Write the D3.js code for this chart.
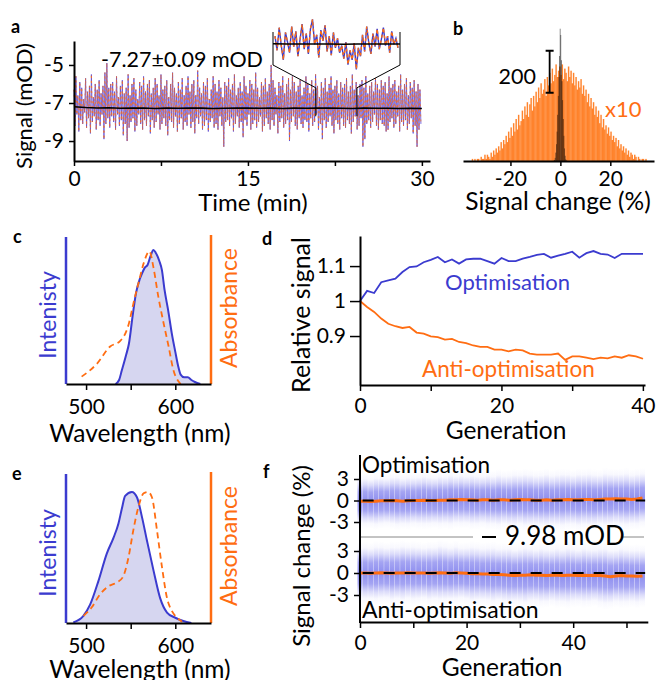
<!DOCTYPE html>
<html><head><meta charset="utf-8">
<script src="https://cdn.jsdelivr.net/npm/d3@7"></script>
<style>
body{margin:0;background:#fff}
svg text{font-family:Lato,"Open Sans",sans-serif}
</style></head><body>
<svg id="fig" width="658" height="680"></svg>
<script>
// ---- data ----
// a: signal envelope (mOD), max and min per 10 s bin, 0-30 min
var traceHi = [
-6.3,-5.6,-6.6,-5.9,-6.2,-6.8,-5.7,-6.4,-6.1,-5.5,-6.7,-6.0,-6.3,-5.8,-6.5,-6.1,-5.4,-4.9,-6.2,-6.0,
-5.9,-6.4,-5.6,-6.7,-6.1,-5.8,-6.5,-6.2,-5.5,-6.6,-6.0,-5.7,-6.3,-6.8,-5.9,-6.1,-5.6,-6.4,-6.0,-5.8,
-6.5,-6.2,-5.7,-6.0,-6.6,-5.5,-6.3,-6.1,-5.8,-6.7,-6.0,-5.4,-6.2,-6.5,-5.9,-6.3,-5.7,-6.6,-6.1,-5.6,
-6.4,-6.0,-5.8,-6.6,-5.3,-6.2,-6.5,-5.9,-6.1,-5.7,-6.8,-6.3,-5.6,-6.0,-6.4,-5.8,-6.2,-6.7,-5.9,-6.1,
-5.7,-6.3,-6.0,-5.5,-6.6,-6.2,-5.9,-6.4,-5.6,-6.1,-6.5,-5.8,-6.0,-6.3,-5.4,-6.2,-6.7,-5.9,-6.1,-5.7,
-6.4,-6.0,-5.0,-5.8,-6.2,-6.6,-5.9,-6.1,-5.6,-6.5,-6.0,-5.7,-6.3,-5.6,-5.9,-6.4,-6.1,-5.8,-6.6,-6.2,
-5.6,-6.0,-6.5,-5.8,-6.3,-5.5,-6.1,-6.7,-5.9,-6.2,-5.7,-6.4,-6.0,-5.6,-6.3,-6.1,-5.8,-6.5,-5.9,-6.2,
-6.0,-5.7,-6.4,-6.1,-5.5,-6.3,-5.9,-6.6,-6.0,-5.8,-6.2,-5.6,-6.5,-6.1,-5.9,-6.4,-5.7,-6.0,-6.3,-5.8,
-6.1,-5.9,-6.5,-5.6,-6.2,-6.0,-5.8,-6.4,-6.1,-5.5,-6.3,-6.0,-5.7,-6.6,-5.9,-6.2,-5.8,-6.4,-6.0,-6.3
];
var traceLo = [
-8.2,-7.6,-8.5,-7.9,-8.1,-7.5,-8.3,-7.8,-8.6,-8.0,-7.7,-8.4,-7.9,-8.2,-7.6,-8.9,-8.1,-7.8,-8.3,-7.7,
-8.0,-8.4,-7.6,-8.2,-7.9,-8.7,-8.1,-9.0,-8.3,-8.0,-7.8,-8.5,-8.2,-7.6,-8.1,-8.4,-7.9,-8.2,-7.7,-8.6,
-7.9,-8.3,-8.0,-7.6,-8.4,-8.1,-7.8,-8.2,-8.7,-7.9,-8.0,-8.3,-7.7,-8.5,-8.1,-7.8,-8.4,-8.0,-8.2,-7.6,
-8.3,-8.0,-8.6,-7.8,-8.1,-7.7,-8.4,-8.2,-7.9,-8.5,-8.0,-7.8,-8.3,-8.1,-8.4,-7.7,-8.2,-9.3,-8.0,-7.9,
-8.2,-7.8,-8.5,-8.1,-7.7,-8.3,-8.0,-8.8,-7.9,-8.2,-7.6,-8.4,-8.1,-7.9,-8.3,-8.0,-7.7,-8.5,-8.2,-7.8,
-8.1,-8.4,-7.9,-8.2,-7.6,-8.6,-8.0,-7.8,-8.3,-8.1,-7.9,-9.0,-8.0,-7.7,-8.2,-8.4,-7.8,-8.1,-8.3,-7.9,
-8.0,-8.5,-7.8,-8.2,-8.0,-7.6,-8.4,-8.1,-8.9,-7.9,-8.3,-8.0,-7.7,-8.2,-8.6,-7.9,-8.1,-8.4,-7.8,-8.2,
-8.3,-7.9,-8.1,-8.6,-8.0,-7.7,-8.4,-8.2,-7.8,-9.3,-8.9,-8.1,-7.9,-8.3,-8.0,-7.6,-8.2,-8.4,-7.9,-8.1,
-8.2,-8.5,-8.4,-8.0,-7.8,-8.3,-8.1,-7.7,-8.5,-8.0,-8.2,-7.9,-8.4,-8.1,-7.8,-8.6,-8.2,-9.3,-8.4,-8.1
];
// running mean, one value per minute
var meanA = [-7.2,-7.24,-7.26,-7.25,-7.28,-7.27,-7.26,-7.29,-7.27,-7.28,-7.26,-7.27,-7.29,-7.28,-7.27,-7.26,
  -7.28,-7.27,-7.29,-7.27,-7.28,-7.27,-7.26,-7.28,-7.29,-7.27,-7.28,-7.28,-7.29,-7.28,-7.29];
// zoomed inset (21-24.4 min)
var insetA = [
-6.6,-7.8,-5.9,-7.4,-8.6,-6.3,-7.1,-8.0,-5.8,-7.5,-6.2,-8.3,-6.9,-5.6,-7.7,-6.4,-8.1,-6.0,-5.2,-7.3,
-6.5,-8.4,-6.1,-7.0,-5.7,-7.9,-6.6,-8.2,-6.3,-7.6,-6.8,-8.0,-7.4,-8.5,-7.1,-9.0,-7.8,-8.6,-7.2,-9.4,
-7.6,-8.3,-6.5,-7.9,-5.8,-7.2,-8.1,-6.4,-7.5,-6.0,-7.7,-6.9,-5.9,-7.4,-6.6,-8.0,-6.2,-7.3,-6.8,-7.6
];
var insetMean = [-7.25,-7.27,-7.26,-7.28,-7.27,-7.29,-7.27,-7.26,-7.28,-7.27];
var insetRange = [20.85, 24.4];

// b: histograms of signal change (%)
var histStartB = -36, histBinB = 0.5;
var histOrange = [
0,1,0,1,0,1,1,0,2,1,1,3,
1,3,2,1,4,2,5,3,6,4,
7,5,9,6,10,8,12,9,14,11,
16,12,18,14,20,15,22,17,19,24,
20,26,22,28,21,27,30,24,31,26,
33,28,35,30,37,32,34,39,31,40,
36,42,37,44,38,41,46,40,43,45,
41,46,39,44,42,38,45,40,43,37,
42,36,40,34,38,35,39,32,36,31,
34,28,32,26,30,25,28,22,26,21,
24,18,22,16,20,15,17,13,16,12,
14,10,12,9,11,7,10,6,8,5,
7,4,6,3,5,2,4,3,1,3,
2,0,2,1,0,1,1,0,1,0,0,0
];
var orangeScale = 10;
var blackStartB = -3, blackBinB = 0.25;
var histBlack = [0,2,5,15,40,80,140,220,310,400,500,630,600,480,380,290,200,120,60,25,8,3,1,0];
var scaleBarB = [325, 525];

// c: spectra
var cIntWl  = [533,537,540,545,548,552,556,560,563,566,569,572,575.5,578,582,585,588,592,596,600,603,606,610,614,618,622,628];
var cIntVal = [0,0.03,0.1,0.22,0.3,0.5,0.68,0.78,0.83,0.87,0.89,0.95,1.0,0.98,0.92,0.85,0.7,0.55,0.38,0.24,0.14,0.07,0.05,0.05,0.03,0.015,0];
var cAbsWl  = [495,512,527,538,547.5,553,559,564.5,571,575.5,581,587,592.5,598,603.5,606];
var cAbsVal = [0.055,0.15,0.28,0.32,0.44,0.6,0.76,0.9,0.99,0.87,0.65,0.45,0.28,0.1,0.02,0];
// e: spectra
var eIntWl  = [485.7,497,504.5,513.8,523.2,530.7,536.3,540,543.8,551.3,557,562.6,568.2,575.6,583,590.7,600,609,618];
var eIntVal = [0.005,0.055,0.14,0.32,0.53,0.65,0.76,0.87,0.97,1.0,0.96,0.81,0.63,0.4,0.19,0.08,0.04,0.015,0];
var eAbsWl  = [497.2,506.4,515.7,525,534.5,541.2,547.5,553,558.8,564.5,569.3,573.8,579.4,585,590.7,596.3,602,607.5];
var eAbsVal = [0.055,0.12,0.22,0.28,0.31,0.35,0.5,0.71,0.89,0.99,1.0,0.96,0.71,0.43,0.19,0.09,0.04,0.01];

// d: relative signal per generation 0..40
var optD = [1.0,1.029,1.023,1.054,1.059,1.064,1.083,1.097,1.099,1.111,1.118,1.126,1.111,1.119,1.107,1.119,1.121,1.121,1.114,1.107,
  1.123,1.114,1.114,1.121,1.126,1.132,1.135,1.124,1.130,1.135,1.141,1.124,1.137,1.143,1.135,1.133,1.123,1.135,1.135,1.135,1.135];
var antiD = [1.0,0.983,0.969,0.950,0.935,0.928,0.923,0.926,0.910,0.907,0.899,0.897,0.890,0.892,0.883,0.880,0.873,0.869,0.869,0.861,
  0.861,0.856,0.861,0.859,0.850,0.847,0.847,0.847,0.850,0.832,0.842,0.842,0.838,0.834,0.838,0.836,0.842,0.838,0.845,0.842,0.835];

// f: mean signal change (%) and cloud half-width (%) per generation 0..53
var optF = [-0.1,-0.1,-0.15,-0.1,-0.05,-0.05,0,-0.05,-0.1,-0.05,0,0,0.05,0,0,0.05,0.05,0.1,0.1,0.15,0.1,0.1,0.05,0.1,0.1,0.05,0.1,
  0.1,0.05,0.1,0.15,0.1,0.1,0.05,0.05,0.1,0.05,0.1,0.1,0.15,0.1,0.1,0.15,0.15,0.1,0.15,0.2,0.2,0.25,0.2,0.2,0.15,0.2,0.35];
var antiF = [0,0,-0.05,0,0.05,0,-0.05,0,0,0.05,0,0,0,-0.05,0,0.05,0,-0.05,0.05,0,-0.05,-0.1,-0.1,-0.15,-0.15,-0.2,-0.2,
  -0.25,-0.3,-0.35,-0.3,-0.3,-0.25,-0.3,-0.3,-0.35,-0.3,-0.3,-0.35,-0.3,-0.3,-0.35,-0.3,-0.35,-0.3,-0.35,-0.4,-0.5,-0.4,-0.35,-0.4,-0.4,-0.45,-0.4];
var optSpread = [3.8,3.9,3.8,4.0,3.9,3.8,4.0,4.1,3.9,4.0,3.9,4.0,4.1,4.0,3.9,4.1,4.0,4.2,4.0,4.1,4.0,4.2,4.1,4.0,4.2,4.1,4.3,
  4.1,4.2,4.3,4.2,4.4,4.3,4.2,4.3,4.4,4.2,4.3,4.4,4.3,4.2,4.4,4.3,4.4,4.3,4.2,4.4,4.3,4.2,4.3,4.4,4.2,4.3,4.2];
var antiSpread = [4.2,4.3,4.2,4.4,4.3,4.2,4.4,4.3,4.5,4.3,4.4,4.3,4.2,4.4,4.3,4.5,4.4,4.3,4.4,4.2,4.3,4.5,4.4,4.3,4.4,4.5,4.3,
  4.4,4.5,4.3,4.4,4.6,4.4,4.3,4.5,4.4,4.3,4.5,4.4,4.6,4.4,4.3,4.5,4.4,4.3,4.5,4.6,4.4,4.3,4.5,4.4,4.3,4.4,4.3];

// ---- drawing ----
var blue = "#3b3bcf", orange = "#ff6d12", lav = "#d6d6f0";
var svg = d3.select("#fig");

var styleAxis = function(g) {
  g.select(".domain").attr("stroke", "#000").attr("stroke-width", 2);
  g.selectAll(".tick line").attr("stroke", "#000").attr("stroke-width", 1.5);
  g.selectAll(".tick text").attr("font-size", 21).attr("fill", "#000");
};
var label = function(x, y, txt, opts) {
  opts = opts || {};
  var t = svg.append("text").attr("x", x).attr("y", y).text(txt)
    .attr("font-size", opts.size || 21)
    .attr("fill", opts.fill || "#000")
    .attr("text-anchor", opts.anchor || "start");
  if (opts.bold) t.attr("font-weight", "bold");
  if (opts.rot) t.attr("transform", "rotate(-90," + x + "," + y + ")");
  return t;
};
var panelLetters = [["a",11,33],["b",453,35],["c",13,243],["d",262,245],["e",12,480],["f",263,478]];
panelLetters.forEach(function(p) { label(p[1], p[2], p[0], {bold: true, size: 18}); });

// ===== panel a =====
var xa = d3.scaleLinear().domain([0, 30.7]).range([74, 430]);
var ya = d3.scaleLinear().domain([-10.05, -3.74]).range([161, 41]);
var binA = 30 / traceHi.length;
// zig-zag through each bin's max then min
var zig = [];
traceHi.forEach(function(h, i) {
  zig.push([i * binA, h]);
  zig.push([(i + 0.5) * binA, traceLo[i]]);
});
var lineA = d3.line().x(function(d) { return xa(d[0]); }).y(function(d) { return ya(d[1]); });

svg.append("path").attr("d", lineA(zig)).attr("fill", "none")
  .attr("stroke", "#5a4ad8").attr("stroke-width", 1).attr("opacity", 0.8);
svg.append("path").attr("d", lineA(zig)).attr("fill", "none")
  .attr("stroke", orange).attr("stroke-width", 1).attr("stroke-dasharray", "2,3").attr("opacity", 0.75);
svg.append("path")
  .attr("d", d3.line().x(function(d, i) { return xa(i); }).y(function(d) { return ya(d); })(meanA))
  .attr("fill", "none").attr("stroke", "#000").attr("stroke-width", 1.6);

svg.append("g").attr("transform", "translate(0,161)")
  .call(d3.axisBottom(xa).tickValues([0, 7.5, 15, 22.5, 30])
    .tickFormat(function(d) { return d % 15 === 0 ? d : ""; })
    .tickSize(5).tickPadding(5).tickSizeOuter(0))
  .call(styleAxis);
svg.append("g").attr("transform", "translate(74,0)")
  .call(d3.axisLeft(ya).tickValues([-9, -7, -5]).tickFormat(String)
    .tickSize(5).tickPadding(5).tickSizeOuter(0))
  .call(styleAxis);

// inset + connectors
var insL = 273, insR = 400, insTop = 32, insBot = 65;
var xi = d3.scaleLinear().domain([0, insetA.length - 1]).range([insL + 2, insR - 2]);
var yi = d3.scaleLinear().domain([-7.27, -5]).range([44, 17]);
var zx0 = xa(insetRange[0]), zx1 = xa(insetRange[1]);
var conn = [
  [[insL, insTop], [insL, insBot], [zx0, ya(-6.2)], [zx0, ya(-7.7)]],
  [[insR, insTop], [insR, insBot], [zx1, ya(-6.2)], [zx1, ya(-7.7)]]
];
conn.forEach(function(c) {
  svg.append("path").attr("d", d3.line()(c)).attr("fill", "none").attr("stroke", "#000").attr("stroke-width", 1);
});
var lineI = d3.line().x(function(d, i) { return xi(i); }).y(function(d) { return yi(d); });
svg.append("path").attr("d", lineI(insetA)).attr("fill", "none").attr("stroke", blue).attr("stroke-width", 1.4);
svg.append("path").attr("d", lineI(insetA)).attr("fill", "none").attr("stroke", orange)
  .attr("stroke-width", 1.4).attr("stroke-dasharray", "3,3");
var xim = d3.scaleLinear().domain([0, insetMean.length - 1]).range([insL, insR]);
svg.append("path")
  .attr("d", d3.line().x(function(d, i) { return xim(i); }).y(function(d) { return yi(d); })(insetMean))
  .attr("fill", "none").attr("stroke", "#000").attr("stroke-width", 1.5);

label(101, 67, "-7.27\u00b10.09 mOD", {size: 21.5});
label(32, 106, "Signal (mOD)", {rot: true, anchor: "middle", size: 22});
label(253, 211, "Time (min)", {anchor: "middle", size: 24});

// ===== panel b =====
var xb = d3.scaleLinear().domain([-39, 37.5]).range([463, 654]);
var yb = d3.scaleLinear().domain([0, 700]).range([161, 14]);
svg.append("g").selectAll("rect").data(histOrange).enter().append("rect")
  .attr("x", function(d, i) { return xb(histStartB + i * histBinB); })
  .attr("width", xb(histBinB) - xb(0) + 0.2)
  .attr("y", function(d) { return yb(d * orangeScale); })
  .attr("height", function(d) { return yb(0) - yb(d * orangeScale); })
  .attr("fill", "#ff7a1c").attr("opacity", 0.92);
svg.append("g").selectAll("rect").data(histBlack).enter().append("rect")
  .attr("x", function(d, i) { return xb(blackStartB + i * blackBinB); })
  .attr("width", xb(blackBinB) - xb(0) + 0.2)
  .attr("y", function(d) { return yb(d); })
  .attr("height", function(d) { return yb(0) - yb(d); })
  .attr("fill", "#000").attr("opacity", 0.55);
svg.append("g").attr("transform", "translate(0,161)")
  .call(d3.axisBottom(xb).tickValues([-20, 0, 20]).tickFormat(String)
    .tickSize(5).tickPadding(5).tickSizeOuter(0))
  .call(styleAxis);
var sbx = xb(-4.3);
svg.append("path")
  .attr("d", "M" + (sbx - 4) + "," + yb(scaleBarB[1]) + "H" + (sbx + 4) +
             "M" + sbx + "," + yb(scaleBarB[1]) + "V" + yb(scaleBarB[0]) +
             "M" + (sbx - 4) + "," + yb(scaleBarB[0]) + "H" + (sbx + 4))
  .attr("stroke", "#000").attr("stroke-width", 1.8).attr("fill", "none");
label(536, 84, "200", {anchor: "end", size: 21.5});
label(605, 117, "x10", {fill: orange, size: 22});
label(558, 210, "Signal change (%)", {anchor: "middle", size: 24.5});

// ===== panels c and e =====
var spectrum = function(opt) {
  var x = d3.scaleLinear().domain([477.5, 640]).range([66, 211]);
  var y = d3.scaleLinear().domain([0, 1]).range([opt.base, opt.base - opt.h]);
  var intPts = opt.intWl.map(function(w, i) { return [w, opt.intVal[i]]; });
  var absPts = opt.absWl.map(function(w, i) { return [w, opt.absVal[i]]; });
  svg.append("path")
    .attr("d", d3.area().curve(d3.curveMonotoneX).x(function(d) { return x(d[0]); })
      .y0(y(0)).y1(function(d) { return y(d[1]); })(intPts))
    .attr("fill", lav);
  svg.append("path")
    .attr("d", d3.line().curve(d3.curveMonotoneX).x(function(d) { return x(d[0]); })
      .y(function(d) { return y(d[1]); })(intPts))
    .attr("fill", "none").attr("stroke", blue).attr("stroke-width", 2);
  svg.append("path")
    .attr("d", d3.line().curve(d3.curveMonotoneX).x(function(d) { return x(d[0]); })
      .y(function(d) { return y(d[1]); })(absPts))
    .attr("fill", "none").attr("stroke", orange).attr("stroke-width", 1.8).attr("stroke-dasharray", "6,4");
  svg.append("line").attr("x1", 66).attr("x2", 66).attr("y1", opt.blueTop).attr("y2", opt.base)
    .attr("stroke", blue).attr("stroke-width", 2.5);
  svg.append("line").attr("x1", 211).attr("x2", 211).attr("y1", opt.orTop).attr("y2", opt.base)
    .attr("stroke", orange).attr("stroke-width", 2.5);
  svg.append("g").attr("transform", "translate(0," + opt.base + ")")
    .call(d3.axisBottom(x).tickValues([500, 550, 600])
      .tickFormat(function(d) { return d === 550 ? "" : d; })
      .tickSize(6).tickPadding(9).tickSizeOuter(0))
    .call(styleAxis);
  label(56, opt.intY, "Intenisty", {rot: true, anchor: "middle", fill: blue, size: 23});
  label(237, opt.absY, "Absorbance", {rot: true, anchor: "middle", fill: orange, size: 23});
  label(140, opt.base + opt.titleDy, "Wavelength (nm)", {anchor: "middle", size: 24.5});
};
spectrum({base: 384, h: 134, blueTop: 237, orTop: 235, intY: 315, absY: 308, titleDy: 58,
  intWl: cIntWl, intVal: cIntVal, absWl: cAbsWl, absVal: cAbsVal});
spectrum({base: 623, h: 131, blueTop: 474, orTop: 472, intY: 553, absY: 546, titleDy: 55,
  intWl: eIntWl, intVal: eIntVal, absWl: eAbsWl, absVal: eAbsVal});

// ===== panel d =====
var xd = d3.scaleLinear().domain([0, 40]).range([360, 643]);
var yd = d3.scaleLinear().domain([0.76, 1.186]).range([385, 236]);
var lineD = d3.line().x(function(d, i) { return xd(i); }).y(function(d) { return yd(d); });
svg.append("path").attr("d", lineD(optD)).attr("fill", "none").attr("stroke", blue).attr("stroke-width", 1.8);
svg.append("path").attr("d", lineD(antiD)).attr("fill", "none").attr("stroke", orange).attr("stroke-width", 1.8);
svg.append("g").attr("transform", "translate(0,385)")
  .call(d3.axisBottom(d3.scaleLinear().domain([0, 40.3]).range([360, 645]))
    .tickValues([0, 10, 20, 30, 40]).tickFormat(function(d) { return d % 20 === 0 ? d : ""; })
    .tickSize(6).tickPadding(7).tickSizeOuter(0))
  .call(styleAxis);
svg.append("g").attr("transform", "translate(360,0)")
  .call(d3.axisLeft(yd).tickValues([0.9, 1, 1.1]).tickFormat(String).tickSize(10).tickPadding(4).tickSizeOuter(0))
  .call(styleAxis);
label(445, 290, "Optimisation", {fill: blue, size: 22});
label(422, 377, "Anti-optimisation", {fill: orange, size: 22.5});
label(310, 315, "Relative signal", {rot: true, anchor: "middle", size: 25});
label(506, 439, "Generation", {anchor: "middle", size: 24.5});

// ===== panel f =====
var xf = d3.scaleLinear().domain([0, 54]).range([360, 647.8]);
var yfU = d3.scaleLinear().domain([-3, 3]).range([522, 479]);
var yfL = d3.scaleLinear().domain([-3, 3]).range([595, 551]);
var grad = svg.append("defs").append("linearGradient").attr("id", "cloud")
  .attr("x1", 0).attr("x2", 0).attr("y1", 0).attr("y2", 1);
[[0, 0], [0.1, 0.04], [0.2, 0.2], [0.33, 0.5], [0.5, 0.62], [0.67, 0.5], [0.8, 0.2], [0.9, 0.04], [1, 0]]
  .forEach(function(s) {
    grad.append("stop").attr("offset", s[0]).attr("stop-color", "#4a4ae6").attr("stop-opacity", s[1]);
  });
var drawCloud = function(means, spread, y) {
  var g = svg.append("g");
  g.selectAll("rect").data(means).enter().append("rect")
    .attr("x", function(d, i) { return xf(i) - 2.5; })
    .attr("width", 5)
    .attr("y", function(d, i) { return y(d + spread[i]); })
    .attr("height", function(d, i) { return y(d - spread[i]) - y(d + spread[i]); })
    .attr("fill", "url(#cloud)");
  svg.append("path")
    .attr("d", d3.line().x(function(d, i) { return xf(i); }).y(function(d) { return y(d); })(means))
    .attr("fill", "none").attr("stroke", orange).attr("stroke-width", 3);
  svg.append("line").attr("x1", xf(0.5)).attr("x2", xf(53.5)).attr("y1", y(0)).attr("y2", y(0))
    .attr("stroke", "#000").attr("stroke-width", 2).attr("stroke-dasharray", "11,10");
};
drawCloud(optF, optSpread, yfU);
drawCloud(antiF, antiSpread, yfL);
svg.append("line").attr("x1", 360).attr("x2", 473).attr("y1", 537).attr("y2", 537).attr("stroke", "#888").attr("stroke-width", 1);
svg.append("line").attr("x1", 622).attr("x2", 644).attr("y1", 537).attr("y2", 537).attr("stroke", "#888").attr("stroke-width", 1);
svg.append("line").attr("x1", 482).attr("x2", 496).attr("y1", 537).attr("y2", 537).attr("stroke", "#000").attr("stroke-width", 2);
label(505, 545, "9.98 mOD", {size: 26});

svg.append("g").attr("transform", "translate(0,622)")
  .call(d3.axisBottom(d3.scaleLinear().domain([0, 54]).range([360, 647.8]))
    .tickValues([0, 10, 20, 30, 40, 50]).tickFormat(function(d) { return d % 20 === 0 ? d : ""; })
    .tickSize(6).tickPadding(7).tickSizeOuter(0))
  .call(styleAxis);
svg.append("line").attr("x1", 360).attr("x2", 360).attr("y1", 455).attr("y2", 623).attr("stroke", "#000").attr("stroke-width", 2);
[yfU, yfL].forEach(function(y) {
  var g = svg.append("g").attr("transform", "translate(360,0)")
    .call(d3.axisLeft(y).tickValues([-3, 0, 3]).tickFormat(String).tickSize(6).tickPadding(5).tickSizeOuter(0))
    .call(styleAxis);
  g.select(".domain").remove();
});
label(362, 473, "Optimisation", {size: 22.5});
label(362, 618, "Anti-optimisation", {size: 23});
label(310, 556, "Signal change (%)", {rot: true, anchor: "middle", size: 24});
label(502, 676, "Generation", {anchor: "middle", size: 24.5});
</script>
</body></html>
